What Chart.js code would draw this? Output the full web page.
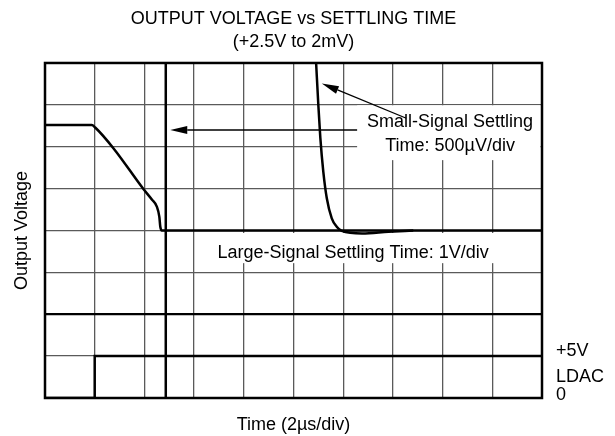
<!DOCTYPE html>
<html>
<head>
<meta charset="utf-8">
<style>
  html, body { margin: 0; padding: 0; background: #fff; }
  #wrap { width: 615px; height: 436px; }
</style>
<script src="https://cdn.jsdelivr.net/npm/chart.js@4/dist/chart.umd.min.js"></script>
</head>
<body>
<div id="wrap"><canvas id="c" width="615" height="436"></canvas></div>
<script>
// ---- Data (x in divisions of 2µs, y in screen divisions) ----
const titleLines = ['OUTPUT VOLTAGE vs SETTLING TIME', '(+2.5V to 2mV)'];
const xAxisLabel = 'Time (2\u00B5s/div)';
const yAxisLabel = 'Output Voltage';

const largeSignalX = [0, 0.94, 1.01, 1.38, 1.98, 2.15, 2.25, 2.30, 2.32, 2.35, 10];
const largeSignalY = [6.52, 6.52, 6.46, 5.96, 4.99, 4.74, 4.57, 4.33, 4.09, 4.0, 4.0];

const smallSignalX = [5.455, 5.50, 5.54, 5.60, 5.67, 5.77, 5.87, 5.97, 6.38, 6.91, 7.41];
const smallSignalY = [8.0, 6.99, 6.21, 5.40, 4.77, 4.29, 4.09, 3.99, 3.93, 3.97, 4.0];

const triggerX = [2.43, 2.43];
const triggerY = [0, 8];

const ldacX = [0, 1.0, 1.0, 10];
const ldacY = [0, 0, 1, 1];

const ldacLabels = ['+5V', 'LDAC', '0'];
const smallSignalLabel = ['Small-Signal Settling', 'Time: 500\u00B5V/div'];
const largeSignalLabel = 'Large-Signal Settling Time: 1V/div';

const zip = (xs, ys) => xs.map((x, i) => ({ x: x, y: ys[i] }));

const FONT = '"Liberation Sans", Arial, Helvetica, sans-serif';

function arrow(ctx, x0, y0, x1, y1, headLen, headW) {
  const ang = Math.atan2(y1 - y0, x1 - x0);
  const bx = x1 - headLen * Math.cos(ang), by = y1 - headLen * Math.sin(ang);
  ctx.beginPath();
  ctx.moveTo(x0, y0);
  ctx.lineTo(bx, by);
  ctx.stroke();
  ctx.beginPath();
  ctx.moveTo(x1, y1);
  ctx.lineTo(bx + headW * Math.sin(ang), by - headW * Math.cos(ang));
  ctx.lineTo(bx - headW * Math.sin(ang), by + headW * Math.cos(ang));
  ctx.closePath();
  ctx.fill();
}

const annotations = {
  id: 'annotations',
  beforeDatasetsDraw(chart) {
    const { ctx, scales: { x, y } } = chart;
    ctx.save();
    ctx.fillStyle = '#fff';
    // label backgrounds (interrupt grid lines)
    ctx.fillRect(x.getPixelForValue(6.28), y.getPixelForValue(6.99),
      x.getPixelForValue(10) - 1.5 - x.getPixelForValue(6.28), y.getPixelForValue(5.68) - y.getPixelForValue(6.99));
    ctx.fillRect(x.getPixelForValue(3.2), y.getPixelForValue(3.94),
      x.getPixelForValue(9.06) - x.getPixelForValue(3.2), y.getPixelForValue(3.22) - y.getPixelForValue(3.94));
    ctx.restore();
  },
  afterDraw(chart) {
    const { ctx, chartArea: a, scales: { x, y } } = chart;
    ctx.save();
    // frame
    ctx.strokeStyle = '#000';
    ctx.lineWidth = 2.5;
    ctx.strokeRect(a.left, a.top, a.right - a.left, a.bottom - a.top);
    // texts
    ctx.fillStyle = '#000';
    ctx.font = '18px ' + FONT;
    ctx.textBaseline = 'middle';
    ctx.textAlign = 'center';
    ctx.fillText(smallSignalLabel[0], x.getPixelForValue(8.15), y.getPixelForValue(6.59));
    ctx.fillText(smallSignalLabel[1], x.getPixelForValue(8.15), y.getPixelForValue(6.01));
    ctx.fillText(largeSignalLabel, x.getPixelForValue(6.2), y.getPixelForValue(3.46));
    ctx.textAlign = 'left';
    const lx = a.right + 14;
    ctx.fillText(ldacLabels[0], lx, y.getPixelForValue(1.11));
    ctx.fillText(ldacLabels[1], lx, y.getPixelForValue(0.51));
    ctx.fillText(ldacLabels[2], lx, y.getPixelForValue(0.07));
    // arrows
    ctx.strokeStyle = '#000';
    ctx.lineWidth = 1.3;
    arrow(ctx, x.getPixelForValue(6.28), y.getPixelForValue(6.40),
      x.getPixelForValue(2.52), y.getPixelForValue(6.40), 17, 4);
    arrow(ctx, x.getPixelForValue(7.27), y.getPixelForValue(6.68),
      x.getPixelForValue(5.57), y.getPixelForValue(7.51), 17, 4);
    ctx.restore();
  }
};

const lineStyle = { borderColor: '#000', borderWidth: 2.5, pointRadius: 0, fill: false, tension: 0 };

new Chart(document.getElementById('c'), {
  type: 'line',
  data: {
    datasets: [
      Object.assign({ label: 'Large-Signal', data: zip(largeSignalX, largeSignalY), cubicInterpolationMode: 'monotone' }, lineStyle),
      Object.assign({ label: 'Small-Signal', data: zip(smallSignalX, smallSignalY), cubicInterpolationMode: 'monotone' }, lineStyle),
      Object.assign({ label: 'Trigger', data: zip(triggerX, triggerY) }, lineStyle),
      Object.assign({ label: 'LDAC', data: zip(ldacX, ldacY) }, lineStyle)
    ]
  },
  options: {
    responsive: false,
    animation: false,
    events: [],
    layout: { padding: { left: 0, right: 73, top: 0, bottom: 0 } },
    plugins: {
      legend: { display: false },
      tooltip: { enabled: false },
      title: {
        display: true,
        fullSize: false,
        text: titleLines,
        color: '#000',
        font: { family: FONT, size: 18, weight: 'normal', lineHeight: 1.28 },
        padding: { top: 7.5, bottom: 9.4 }
      }
    },
    scales: {
      x: {
        type: 'linear', min: 0, max: 10,
        ticks: { display: false, stepSize: 1 },
        grid: { color: '#5a5a5a', lineWidth: 1.3, drawTicks: false },
        border: { display: false },
        title: { display: true, text: xAxisLabel, color: '#000',
          font: { family: FONT, size: 18, lineHeight: 1.2 }, padding: { top: 16.2, bottom: 0.2 } }
      },
      y: {
        type: 'linear', min: 0, max: 8,
        ticks: { display: false, stepSize: 1 },
        grid: {
          color: ctx => (ctx.tick && ctx.tick.value === 2) ? '#000' : '#5a5a5a',
          lineWidth: ctx => (ctx.tick && ctx.tick.value === 2) ? 2.2 : 1.3,
          drawTicks: false
        },
        border: { display: false },
        title: { display: true, text: yAxisLabel, color: '#000',
          font: { family: FONT, size: 18, lineHeight: 1.2 }, padding: { top: 11.2, bottom: 12.2 } }
      }
    }
  },
  plugins: [annotations]
});
</script>
</body>
</html>
